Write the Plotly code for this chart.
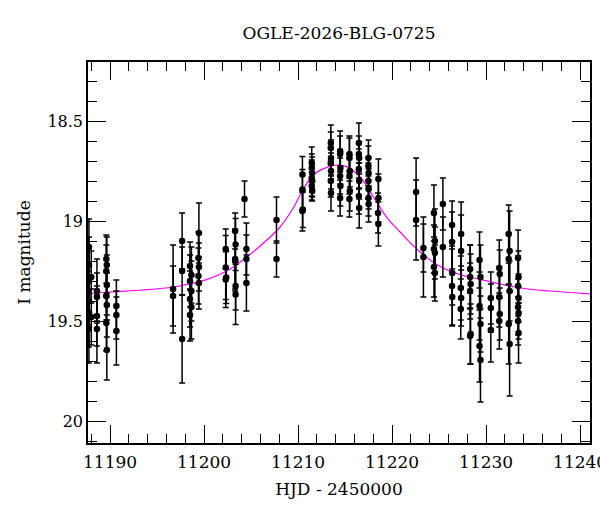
import plotly.graph_objects as go

# ---- observations (HJD-2450000, I mag, error) ----
hjd = [
    11187.75, 11187.75, 11187.75, 11187.75, 11187.75, 11187.75,
    11188.0, 11188.0,
    11188.6, 11188.6, 11188.6, 11188.6,
    11189.6, 11189.65, 11189.6, 11189.65, 11189.6, 11189.65, 11189.6, 11189.65,
    11190.67, 11190.67, 11190.67,
    11196.7, 11196.7,
    11197.66, 11197.66, 11197.66,
    11198.5, 11198.65, 11198.5, 11198.65, 11198.5, 11198.65, 11198.5,
    11199.45, 11199.4, 11199.45, 11199.4, 11199.45,
    11202.3, 11202.3, 11202.35, 11202.3,
    11203.3, 11203.35, 11203.3, 11203.35, 11203.3, 11203.35,
    11204.3, 11204.5, 11204.5, 11204.5,
    11207.7, 11207.7,
    11210.46, 11210.46, 11210.5, 11210.46,
    11211.45, 11211.45, 11211.5, 11211.45, 11211.5, 11211.45, 11211.5,
    11213.48, 11213.48, 11213.5, 11213.48, 11213.5, 11213.48, 11213.5,
    11214.47, 11214.47, 11214.5, 11214.47, 11214.5, 11214.47,
    11215.46, 11215.46, 11215.5, 11215.46, 11215.5, 11215.46,
    11216.46, 11216.46, 11216.5, 11216.46, 11216.5, 11216.46, 11216.5,
    11217.48, 11217.48, 11217.5, 11217.48, 11217.5, 11217.48, 11217.5,
    11218.54, 11218.54, 11218.5, 11218.54,
    11222.55, 11222.55,
    11223.33, 11223.33,
    11224.45, 11224.55, 11224.45, 11224.55, 11224.45, 11224.55,
    11225.4, 11225.4,
    11226.38, 11226.38, 11226.4, 11226.38, 11226.4,
    11227.34, 11227.34, 11227.3, 11227.34, 11227.3,
    11228.3, 11228.3, 11228.35, 11228.3, 11228.35, 11228.3,
    11229.3, 11229.4, 11229.3, 11229.4, 11229.3, 11229.4,
    11230.5, 11230.5, 11230.5,
    11231.4, 11231.45, 11231.4, 11231.45, 11231.4,
    11232.4, 11232.5, 11232.4, 11232.5, 11232.4, 11232.5,
    11233.4, 11233.45, 11233.4, 11233.45, 11233.4, 11233.45, 11233.4, 11233.45,
]
mag = [
    19.13, 19.22, 19.30, 19.40, 19.46, 19.53,
    19.28, 19.48,
    19.35, 19.38, 19.475, 19.54,
    19.19, 19.22, 19.25, 19.32, 19.375, 19.42, 19.51, 19.645,
    19.425, 19.47, 19.55,
    19.34, 19.375,
    19.10, 19.25, 19.59,
    19.225, 19.27, 19.30, 19.35, 19.39, 19.43, 19.47,
    19.06, 19.185, 19.23, 19.275, 19.31,
    19.14, 19.233, 19.283, 19.293,
    19.05, 19.117, 19.19, 19.325, 19.20, 19.367,
    18.89, 19.14, 19.19, 19.31,
    18.995, 19.19,
    18.767, 18.842, 18.942, 18.95,
    18.71, 18.735, 18.76, 18.785, 18.80, 18.825, 18.85,
    18.61, 18.635, 18.685, 18.71, 18.75, 18.80, 18.86,
    18.65, 18.665, 18.735, 18.775, 18.825, 18.885,
    18.665, 18.685, 18.75, 18.775, 18.85, 18.89,
    18.61, 18.665, 18.685, 18.74, 18.80, 18.875, 18.935,
    18.685, 18.725, 18.76, 18.80, 18.84, 18.885, 18.915,
    18.79, 18.885, 18.96, 19.015,
    18.855, 18.995,
    19.135, 19.18,
    18.96, 19.10, 19.14, 19.16, 19.23, 19.26,
    18.915, 19.13,
    19.02, 19.105, 19.26, 19.325, 19.38,
    19.065, 19.15, 19.335, 19.385, 19.44,
    19.24, 19.28, 19.315, 19.35, 19.565, 19.575,
    19.195, 19.28, 19.425, 19.515, 19.625, 19.695,
    19.385, 19.435, 19.545,
    19.235, 19.265, 19.38, 19.465, 19.50,
    19.065, 19.15, 19.19, 19.35, 19.515, 19.615,
    19.185, 19.28, 19.325, 19.385, 19.43, 19.46, 19.50, 19.56,
]
err = [
    0.14, 0.14, 0.16, 0.15, 0.17, 0.18,
    0.13, 0.14,
    0.16, 0.12, 0.15, 0.17,
    0.12, 0.14, 0.13, 0.15, 0.12, 0.16, 0.14, 0.15,
    0.13, 0.12, 0.17,
    0.22, 0.15,
    0.14, 0.12, 0.22,
    0.12, 0.14, 0.13, 0.15, 0.14, 0.16, 0.13,
    0.15, 0.13, 0.12, 0.14, 0.13,
    0.10, 0.16, 0.13, 0.14,
    0.09, 0.13, 0.15, 0.12, 0.15, 0.15,
    0.09, 0.13, 0.12, 0.14,
    0.115, 0.09,
    0.09, 0.10, 0.09, 0.10,
    0.08, 0.07, 0.08, 0.09, 0.08, 0.07, 0.05,
    0.09, 0.08, 0.09, 0.08, 0.09, 0.08, 0.09,
    0.10, 0.09, 0.08, 0.09, 0.10, 0.09,
    0.09, 0.10, 0.08, 0.09, 0.10, 0.09,
    0.10, 0.09, 0.08, 0.10, 0.09, 0.09, 0.10,
    0.09, 0.10, 0.08, 0.09, 0.10, 0.09, 0.09,
    0.10, 0.12, 0.10, 0.11,
    0.17, 0.20,
    0.12, 0.20,
    0.14, 0.16, 0.12, 0.13, 0.15, 0.14,
    0.13, 0.15,
    0.12, 0.15, 0.16, 0.20, 0.14,
    0.16, 0.18, 0.16, 0.14, 0.15,
    0.12, 0.16, 0.15, 0.14, 0.15, 0.14,
    0.14, 0.16, 0.17, 0.14, 0.18, 0.21,
    0.13, 0.12, 0.16,
    0.14, 0.12, 0.15, 0.13, 0.14,
    0.145, 0.20, 0.13, 0.15, 0.20, 0.26,
    0.14, 0.13, 0.15, 0.12, 0.14, 0.13, 0.12, 0.15,
]

# ---- model light curve ----
model_t = [11187.66, 11190.0, 11193.5, 11196.7, 11200.0, 11202.77, 11205.96,
           11208.09, 11209.5, 11210.56, 11211.63, 11213.05, 11214.2, 11215.17,
           11216.6, 11218.01, 11219.43, 11220.85, 11222.63, 11225.11, 11227.23,
           11229.36, 11231.49, 11233.62, 11236.81, 11241.06]
model_mag = [19.364, 19.355, 19.345, 19.330, 19.297, 19.240, 19.125,
             19.030, 18.934, 18.840, 18.770, 18.732, 18.720, 18.728,
             18.780, 18.880, 18.982, 19.055, 19.140, 19.228, 19.268,
             19.292, 19.315, 19.335, 19.350, 19.364]

title_text = "OGLE-2026-BLG-0725"
x_label = "HJD - 2450000"
y_label = "I magnitude"

FONT = "DejaVu Serif"

fig = go.Figure()
fig.add_trace(go.Scatter(
    x=model_t, y=model_mag, mode="lines",
    line=dict(color="#ff00ff", width=1.2, shape="spline", smoothing=1.0),
    hoverinfo="skip", showlegend=False))
fig.add_trace(go.Scatter(
    x=hjd, y=mag, mode="markers",
    marker=dict(color="black", size=6.5),
    error_y=dict(type="data", array=err, visible=True, color="black",
                 thickness=1.5, width=3),
    showlegend=False))

axis_common = dict(
    showline=True, linecolor="black", linewidth=1.5, mirror="allticks",
    ticks="inside", tickcolor="black", tickwidth=1.2,
    showgrid=False, zeroline=False, automargin=False,
    ticklabeloverflow="allow",
)

fig.update_xaxes(
    **axis_common,
    range=[11187.65, 11241.05], tick0=11190, dtick=10, ticklen=18,
    tickformat="d", ticklabelstandoff=3,
    tickfont=dict(family=FONT, size=17, color="black"),
    minor=dict(ticks="inside", dtick=2, ticklen=9, tickcolor="black", tickwidth=1.2, showgrid=False),
    title=dict(text=x_label, font=dict(family=FONT, size=17, color="black"), standoff=12),
)
fig.update_yaxes(
    **axis_common,
    range=[20.11, 18.205], tick0=18.5, dtick=0.5, ticklen=18,
    tickfont=dict(family=FONT, size=16, color="black"),
    minor=dict(ticks="inside", dtick=0.1, ticklen=9, tickcolor="black", tickwidth=1.2, showgrid=False),
    title=dict(text=y_label, font=dict(family=FONT, size=17, color="black"), standoff=12),
)

fig.update_layout(
    width=600, height=512,
    margin=dict(l=88, r=10, t=62, b=69, autoexpand=False),
    paper_bgcolor="white", plot_bgcolor="white",
    title=dict(text=title_text, x=0.565, xanchor="center", y=0.935, yanchor="middle",
               font=dict(family=FONT, size=17, color="black")),
)

fig.write_html("out.html", config={"displayModeBar": False})
